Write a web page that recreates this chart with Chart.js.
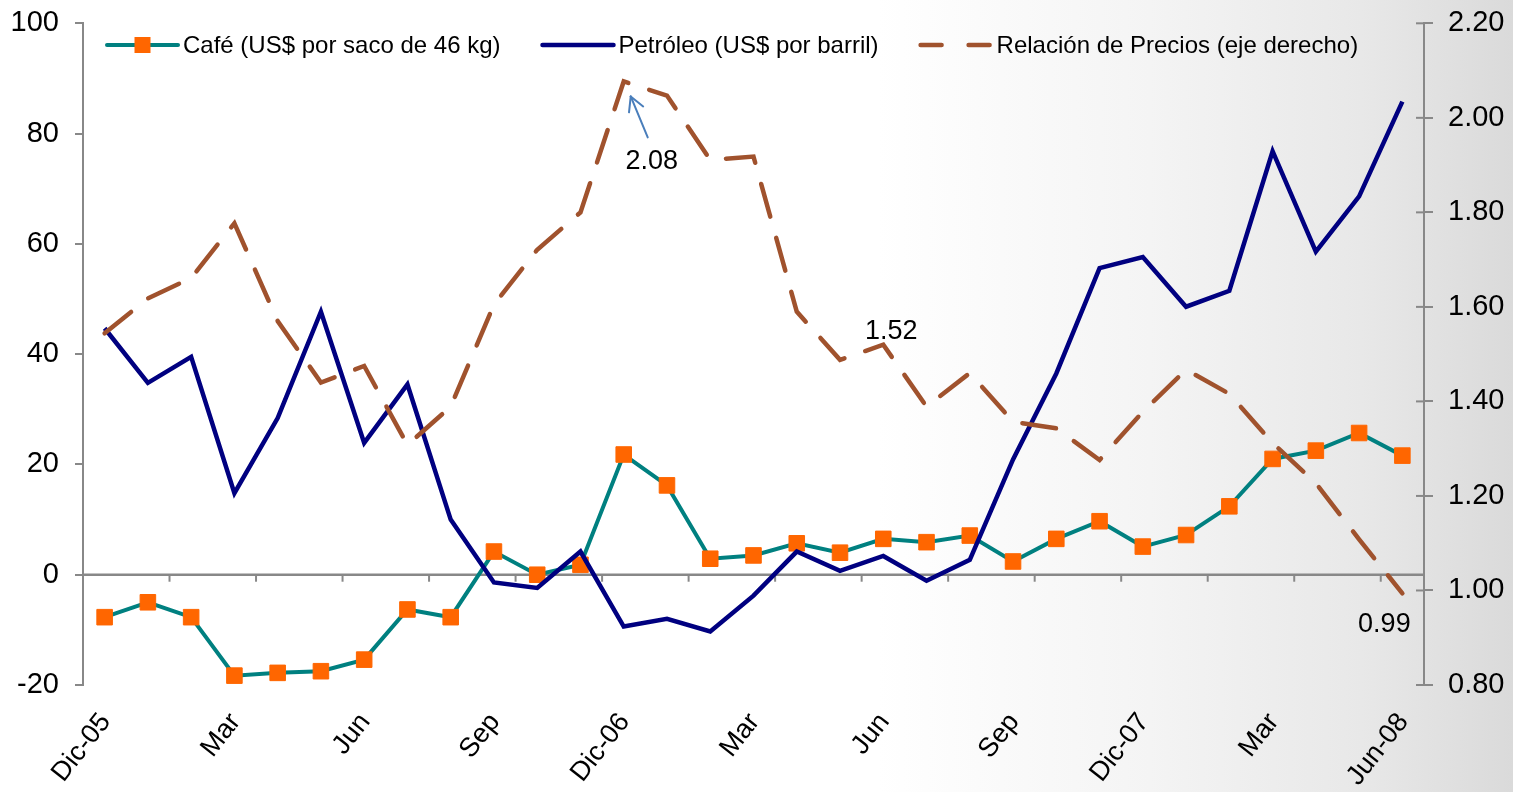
<!DOCTYPE html>
<html><head><meta charset="utf-8">
<script src="https://cdn.jsdelivr.net/npm/chart.js@4.4.1/dist/chart.umd.min.js"></script>
<style>html,body{margin:0;padding:0;background:#fff;overflow:hidden}#wrap{width:1513px;height:792px;position:relative}</style>
</head><body><div id="wrap"><canvas id="c"></canvas></div>
<script>
const categories = ['Dic-05','Ene','Feb','Mar','Abr','May','Jun','Jul','Ago','Sep','Oct','Nov','Dic-06','Ene','Feb','Mar','Abr','May','Jun','Jul','Ago','Sep','Oct','Nov','Dic-07','Ene','Feb','Mar','Abr','May','Jun-08'];
const cafe = [-7.7,-5.0,-7.7,-18.3,-17.8,-17.5,-15.4,-6.3,-7.7,4.2,0.0,1.8,21.8,16.2,2.9,3.5,5.7,4.0,6.5,5.9,7.1,2.4,6.5,9.7,5.1,7.2,12.4,21.0,22.5,25.7,21.6];
const petroleo = [44.7,34.8,39.5,14.8,28.4,47.7,23.9,34.5,10.0,-1.4,-2.4,4.2,-9.4,-8.0,-10.3,-3.8,4.2,0.7,3.4,-1.1,2.7,20.9,36.5,55.6,57.6,48.6,51.5,76.8,58.6,68.6,85.8];
const relacion = [1.544,1.618,1.661,1.777,1.570,1.440,1.475,1.308,1.389,1.605,1.721,1.800,2.077,2.047,1.911,1.918,1.590,1.488,1.520,1.389,1.460,1.357,1.343,1.276,1.378,1.467,1.416,1.312,1.227,1.108,0.994];
const seriesNames = ['Café (US$ por saco de 46 kg)','Petróleo (US$ por barril)','Relación de Precios (eje derecho)'];
const leftTicks = [-20,0,20,40,60,80,100];
const rightTicks = [0.8,1.0,1.2,1.4,1.6,1.8,2.0,2.2];
const labeledPoints = [12,18,30];

const FONT = "'Liberation Sans', Arial, sans-serif";
const AXIS = '#888888';

const deco = {
  id:'deco',
  beforeDraw(chart){
    const {ctx,width,height} = chart;
    ctx.save();
    const g = ctx.createLinearGradient(0,0,width,0);
    g.addColorStop(0,'#ffffff');
    g.addColorStop(0.58,'#ffffff');
    g.addColorStop(0.76,'#f4f4f4');
    g.addColorStop(0.9,'#e8e8e8');
    g.addColorStop(1,'#dadada');
    ctx.fillStyle = g;
    ctx.fillRect(0,0,width,height);
    ctx.restore();
  },
  beforeDatasetsDraw(chart){
    const {ctx, chartArea, scales} = chart;
    const x = scales.x, y = scales.y, y1 = scales.y1;
    const y0 = y.getPixelForValue(0);
    ctx.save();
    ctx.strokeStyle = AXIS; ctx.lineWidth = 2.5;
    ctx.beginPath(); ctx.moveTo(chartArea.left, y0); ctx.lineTo(chartArea.right, y0); ctx.stroke();
    ctx.lineWidth = 2;
    for (let k = 2; k < categories.length; k += 2) {
      const px = (x.getPixelForValue(k-1) + x.getPixelForValue(k)) / 2;
      ctx.beginPath(); ctx.moveTo(px, y0); ctx.lineTo(px, y0 + 7); ctx.stroke();
    }
    rightTicks.forEach(v => {
      const py = y1.getPixelForValue(v);
      ctx.beginPath(); ctx.moveTo(y1.left - 8, py); ctx.lineTo(y1.left, py); ctx.stroke();
    });
    ctx.restore();
  },
  afterDraw(chart){
    const {ctx, scales} = chart;
    const ds = chart.data.datasets;
    ctx.save();
    ctx.font = '24px ' + FONT;
    ctx.textBaseline = 'middle';
    ctx.fillStyle = '#000';
    let lx = 107; const ly = 45;
    ds.forEach((d, i) => {
      ctx.save();
      ctx.strokeStyle = d.borderColor; ctx.lineWidth = d.borderWidth;
      ctx.lineCap = 'round';
      if (d.borderDash) ctx.setLineDash([21,27]);
      ctx.beginPath(); ctx.moveTo(lx, ly); ctx.lineTo(lx + 71, ly); ctx.stroke();
      ctx.restore();
      if (d.pointRadius > 0) {
        ctx.fillStyle = d.pointBackgroundColor;
        ctx.fillRect(lx + 35.5 - 8, ly - 8, 16, 16);
      }
      ctx.fillStyle = '#000';
      ctx.fillText(d.label, lx + 76, ly + 1);
      lx += 76 + ctx.measureText(d.label).width + 42;
    });
    const y1 = scales.y1, x = scales.x;
    ctx.font = '27px ' + FONT;
    ctx.textAlign = 'center';
    const offs = {12:[28,80], 18:[8,-13], 30:[-18,31]};
    labeledPoints.forEach(i => {
      const px = x.getPixelForValue(i), py = y1.getPixelForValue(relacion[i]);
      const o = offs[i];
      ctx.fillText(relacion[i].toFixed(2), px + o[0], py + o[1]);
    });
    const ax = x.getPixelForValue(12), ay = y1.getPixelForValue(relacion[12]);
    const sx = ax + 24, sy = ay + 56, tx = ax + 7, ty = ay + 15;
    ctx.strokeStyle = '#4A7EBB'; ctx.lineWidth = 2; ctx.lineCap = 'round';
    ctx.beginPath(); ctx.moveTo(sx, sy); ctx.lineTo(tx, ty); ctx.stroke();
    const ang = Math.atan2(ty - sy, tx - sx);
    [0.5, -0.5].forEach(d => {
      ctx.beginPath(); ctx.moveTo(tx, ty);
      ctx.lineTo(tx - 16*Math.cos(ang + d), ty - 16*Math.sin(ang + d)); ctx.stroke();
    });
    ctx.restore();
  }
};

new Chart(document.getElementById('c'), {
  type: 'line',
  data: {
    labels: categories,
    datasets: [
      { label: seriesNames[0], data: cafe, yAxisID: 'y', order: 3,
        borderColor: '#008080', borderWidth: 4, tension: 0,
        pointStyle: 'rect', pointRadius: 11, pointHoverRadius: 11,
        pointBackgroundColor: '#FF6600', pointBorderColor: '#FF6600', pointBorderWidth: 1 },
      { label: seriesNames[1], data: petroleo, yAxisID: 'y', order: 2,
        borderColor: '#000080', borderWidth: 4.5, tension: 0, pointRadius: 0, pointHoverRadius: 0 },
      { label: seriesNames[2], data: relacion, yAxisID: 'y1', order: 1,
        borderColor: '#A0522D', borderWidth: 4.5, tension: 0, borderDash: [34,22], borderCapStyle: 'round',
        pointRadius: 0, pointHoverRadius: 0 }
    ]
  },
  options: {
    responsive: true, maintainAspectRatio: false, animation: false, devicePixelRatio: 1,
    layout: { padding: { top: 23.3, left: 0, right: 0, bottom: 0 } },
    plugins: { legend: { display: false }, tooltip: { enabled: false } },
    events: [],
    scales: {
      x: {
        offset: true,
        grid: { display: false, drawTicks: false },
        border: { display: false },
        ticks: { autoSkip: false, maxRotation: 52, minRotation: 52, padding: 22, labelOffset: 1, color: '#000',
                 font: { size: 27, family: FONT },
                 callback: (v, i) => (i % 3 === 0 ? categories[i] : '') },
        afterFit(s) { s.height = 107; s.paddingLeft = 0; s.paddingRight = 0; }
      },
      y: {
        position: 'left', min: -20, max: 100,
        afterBuildTicks(s) { s.ticks = leftTicks.map(v => ({ value: v })); },
        ticks: { color: '#000', padding: 16, font: { size: 29, family: FONT } },
        grid: { drawOnChartArea: false, tickLength: 8, color: AXIS, lineWidth: 2 },
        border: { color: AXIS, width: 2 },
        afterFit(s) { s.width = 83; s.paddingTop = 0; s.paddingBottom = 0; }
      },
      y1: {
        position: 'right', min: 0.8, max: 2.2,
        afterBuildTicks(s) { s.ticks = rightTicks.map(v => ({ value: v })); },
        ticks: { color: '#000', padding: 15, font: { size: 29, family: FONT }, callback: v => Number(v).toFixed(2) },
        grid: { drawOnChartArea: false, tickLength: 9, color: AXIS, lineWidth: 2 },
        border: { color: AXIS, width: 2 },
        afterFit(s) { s.width = 89; s.paddingTop = 0; s.paddingBottom = 0; }
      }
    }
  },
  plugins: [deco]
});
</script></body></html>
